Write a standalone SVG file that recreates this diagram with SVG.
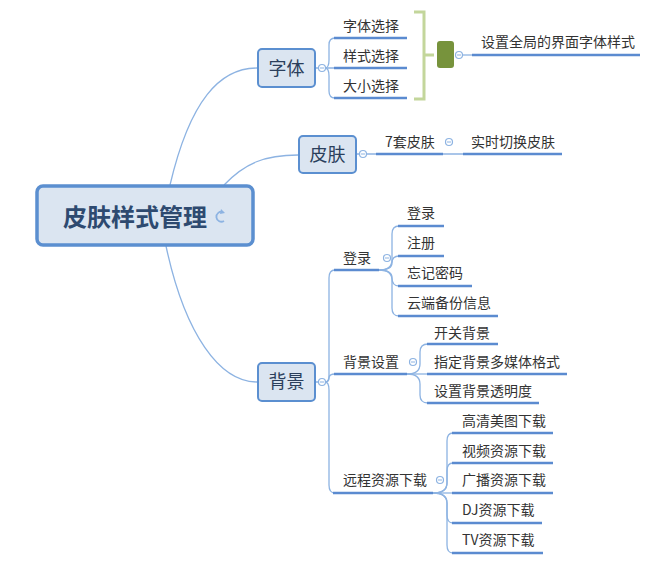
<svg xmlns="http://www.w3.org/2000/svg" width="656" height="565" viewBox="0 0 656 565">
<style>
.conn{fill:none;stroke:#8DB3E2;stroke-width:1.3}
.ul{fill:none;stroke:#5B8BD0;stroke-width:2.5}
.node{fill:#DBE5F1;stroke:#5B8FD0;stroke-width:2}
.t{font-family:"Noto Sans CJK SC","Noto Sans",sans-serif;font-size:14px;fill:#333}
.nt{font-family:"Noto Sans CJK SC","Noto Sans",sans-serif;font-size:18px;fill:#2B3F5C;text-anchor:middle}
.tog{fill:#fff;stroke:#8DB3E2;stroke-width:1.2}
.togm{stroke:#8DB3E2;stroke-width:1}
</style>
<defs>
<g id="toggle"><circle class="tog" r="3.5"/><line class="togm" x1="-2" y1="0" x2="2" y2="0"/></g>
</defs>
<rect width="656" height="565" fill="#fff"/>
<g id="connectors">
<path class="conn" d="M170,185 C190,100 220,68 257,68"/>
<path class="conn" d="M224,185 C245,163 265,155 298,155"/>
<path class="conn" d="M166,246 C185,335 220,382 257,382"/>
<!-- 字体 -->
<path class="conn" d="M316,68 L318,68 M326,68 L334,68"/>
<path class="conn" d="M325,68 Q329,68 329,60 L329,45 Q329,38 335,38"/>
<path class="conn" d="M325,68 Q329,68 329,76 L329,91 Q329,98 335,98"/>
<path class="conn" d="M462,55 L472,55"/>
<!-- 皮肤 -->
<path class="conn" d="M357,154 L359,154 M367,154 L376,154 M443,154 L463,154"/>
<!-- 背景 -->
<path class="conn" d="M316,382 L318,382"/>
<path class="conn" d="M325,382 Q329,382 329,376 L329,278 Q329,270 335,270"/>
<path class="conn" d="M325,382 Q329,382 329,378 Q329,374 335,374"/>
<path class="conn" d="M325,382 Q329,382 329,390 L329,485 Q329,493 335,493"/>
<!-- 登录 -->
<path class="conn" d="M379,270 Q392,270 392,260 L392,234 Q392,226 399,226"/>
<path class="conn" d="M379,270 Q392,270 392,263 Q392,256 399,256"/>
<path class="conn" d="M379,270 Q392,270 392,278 Q392,286 399,286"/>
<path class="conn" d="M379,270 Q392,270 392,280 L392,308 Q392,316 399,316"/>
<!-- 背景设置 -->
<path class="conn" d="M407,374 Q420,374 420,364 L420,352 Q420,344 428,344"/>
<path class="conn" d="M407,374 L428,374"/>
<path class="conn" d="M407,374 Q420,374 420,384 L420,395 Q420,403 428,403"/>
<!-- 远程 -->
<path class="conn" d="M433,493 Q447,493 447,483 L447,441 Q447,433 453,433"/>
<path class="conn" d="M433,493 Q447,493 447,483 L447,471 Q447,463 453,463"/>
<path class="conn" d="M433,493 L453,493"/>
<path class="conn" d="M433,493 Q447,493 447,503 L447,515 Q447,523 453,523"/>
<path class="conn" d="M433,493 Q447,493 447,503 L447,545 Q447,553 453,553"/>
</g>
<g id="root">
<rect x="37" y="186" width="216" height="59" rx="6" fill="#DBE5F1" stroke="#5B8FD0" stroke-width="3.5"/>
<text x="135" y="226" text-anchor="middle" font-family="'Noto Sans CJK SC','Noto Sans',sans-serif" font-size="24" font-weight="bold" fill="#2E4A70">皮肤样式管理</text>
<path d="M223,212 A5,5 0 1 0 224,221" fill="none" stroke="#8DB3E2" stroke-width="1.8"/>
<path d="M221,209 L225,213 L220,214 Z" fill="#8DB3E2"/>
</g>
<g id="n-font">
<rect class="node" x="258" y="49" width="57" height="38" rx="4"/>
<text class="nt" x="286.5" y="75">字体</text>
<use href="#toggle" x="322" y="68"/>
</g>
<g id="n-font-children">
<path class="ul" d="M334,38 H407 M334,68 H407 M334,98 H407"/>
<text class="t" x="343" y="31">字体选择</text>
<text class="t" x="343" y="61">样式选择</text>
<text class="t" x="343" y="91">大小选择</text>
</g>
<g id="n-summary">
<path d="M414,12 H424 V99 H414 M424,55 H434" fill="none" stroke="#C3D69B" stroke-width="3"/>
<rect x="437" y="41" width="17" height="27" rx="3" fill="#77933C"/>
<use href="#toggle" x="459" y="55"/>
<path class="ul" d="M472,55 H640"/>
<text class="t" x="481" y="47">设置全局的界面字体样式</text>
</g>
<g id="n-skin">
<rect class="node" x="299" y="136" width="57" height="37" rx="4"/>
<text class="nt" x="327.5" y="161">皮肤</text>
<use href="#toggle" x="363" y="154"/>
</g>
<g id="n-skin-children">
<path class="ul" d="M376,154 H443"/>
<text class="t" x="385" y="147">7套皮肤</text>
<use href="#toggle" x="449" y="142"/>
<path class="ul" d="M463,154 H562"/>
<text class="t" x="471" y="147">实时切换皮肤</text>
</g>
<g id="n-bg">
<rect class="node" x="258" y="363" width="57" height="38" rx="4"/>
<text class="nt" x="286.5" y="388">背景</text>
<use href="#toggle" x="322" y="382"/>
</g>
<g id="n-login">
<path class="ul" d="M334,270 H379"/>
<text class="t" x="343" y="263">登录</text>
<use href="#toggle" x="387" y="258"/>
<path class="ul" d="M398,226 H444 M398,256 H444 M398,286 H472 M398,316 H498"/>
<text class="t" x="407" y="218">登录</text>
<text class="t" x="407" y="248">注册</text>
<text class="t" x="407" y="278">忘记密码</text>
<text class="t" x="407" y="308">云端备份信息</text>
</g>
<g id="n-bgset">
<path class="ul" d="M334,374 H407"/>
<text class="t" x="343" y="367">背景设置</text>
<use href="#toggle" x="413" y="362"/>
<path class="ul" d="M427,344 H498 M427,374 H567 M427,403 H539"/>
<text class="t" x="434" y="338">开关背景</text>
<text class="t" x="434" y="367">指定背景多媒体格式</text>
<text class="t" x="434" y="396">设置背景透明度</text>
</g>
<g id="n-remote">
<path class="ul" d="M333,493 H433"/>
<text class="t" x="343" y="485">远程资源下载</text>
<use href="#toggle" x="440" y="480"/>
<path class="ul" d="M452,433 H553 M452,463 H553 M452,493 H553 M452,523 H542 M452,553 H543"/>
<text class="t" x="462" y="426">高清美图下载</text>
<text class="t" x="462" y="456">视频资源下载</text>
<text class="t" x="462" y="485">广播资源下载</text>
<text class="t" x="462" y="515">DJ资源下载</text>
<text class="t" x="462" y="545">TV资源下载</text>
</g>
</svg>
